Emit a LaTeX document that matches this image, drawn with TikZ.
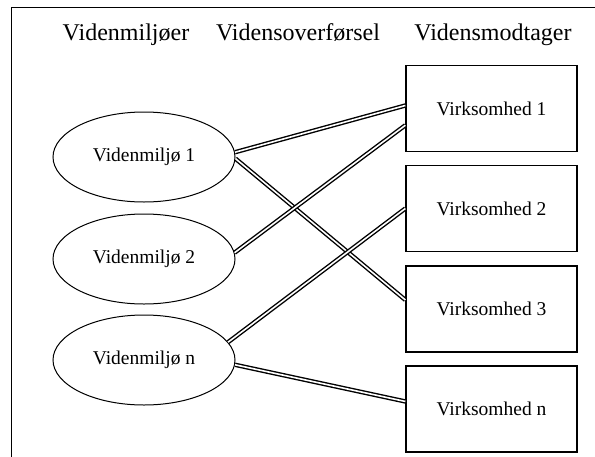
\documentclass[tikz,border=0pt]{standalone}
\usepackage{fontspec}
\setmainfont{Liberation Serif}
\usetikzlibrary{shapes}

\begin{document}
\begin{tikzpicture}[x=1pt,y=-1pt]
      \tikzstyle{every node}+=[inner sep=0pt]
      \tikzstyle{miljo}=[draw=black, line width=1pt, ellipse, minimum width=182pt, minimum height=90pt, font=\fontsize{19.5}{22}\selectfont]
      \tikzstyle{firma}=[draw=black, line width=1.3pt, rectangle, minimum width=171pt, minimum height=86pt, font=\fontsize{19.5}{22}\selectfont]
      \tikzstyle{head}=[anchor=base, font=\fontsize{24}{28}\selectfont]
      \tikzstyle{link}=[draw=black, double=white, line width=1.4pt, double distance=1.6pt]
      \useasboundingbox (0,0) rectangle (595,456);
      \draw [black, line width=1pt] (11.5,470) -- (11.5,7.5) -- (610,7.5);
      \node [head] (h1) at (126,40) {Videnmiljøer};
      \node [head] (h2) at (298,40) {Vidensoverførsel};
      \node [head] (h3) at (493,40) {Vidensmodtager};
      \node [miljo] (m1) at (144,157) {Videnmiljø 1};
      \node [miljo] (m2) at (144,259) {Videnmiljø 2};
      \node [miljo] (mn) at (144,360) {Videnmiljø n};
      \node [firma] (v1) at (491.5,108.5) {Virksomhed 1};
      \node [firma] (v2) at (491.5,208.5) {Virksomhed 2};
      \node [firma] (v3) at (491.5,309) {Virksomhed 3};
      \node [firma] (vn) at (491.5,409) {Virksomhed n};
      \draw [link] (m1.3) -- (v1.178);
      \draw [link] (m1.-1) -- (v3.174);
      \draw [link] (m2.4) -- (v1.191);
      \draw [link] (mn.12) -- (v2.west);
      \draw [link] (mn.-3) -- (vn.175);
\end{tikzpicture}
\end{document}
